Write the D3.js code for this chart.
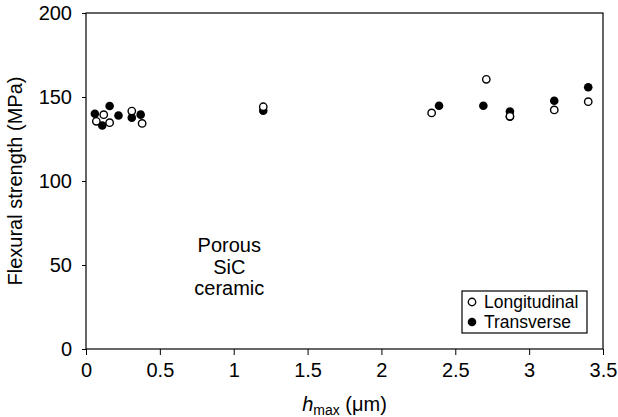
<!DOCTYPE html>
<html>
<head>
<meta charset="utf-8">
<script src="https://cdn.jsdelivr.net/npm/d3@7"></script>
<style>
  body { margin: 0; background: #fff; }
  svg { font-family: "Liberation Sans", Arial, sans-serif; }
  .axis text { font-size: 20px; fill: #000; }
  .axis path, .axis line { stroke: #000; }
</style>
</head>
<body>
<svg width="618" height="417"></svg>
<script>
// longitudinal (open circles)
var longX = [0.07, 0.12, 0.16, 0.31, 0.38, 1.20, 2.34, 2.71, 2.87, 3.17, 3.40]
var longY = [135.5, 139.5, 134.7, 141.6, 134.3, 144.2, 140.5, 160.5, 138.5, 142.3, 147.2]
// transverse (filled circles)
var transX = [0.06, 0.11, 0.16, 0.22, 0.31, 0.37, 1.20, 2.39, 2.69, 2.87, 2.87, 3.17, 3.40]
var transY = [140, 133, 144.6, 139, 137.7, 139.5, 141.8, 144.8, 144.8, 141.3, 138.3, 147.8, 155.8]
var xTicks = [0, 0.5, 1, 1.5, 2, 2.5, 3, 3.5]
var yTicks = [0, 50, 100, 150, 200]
var note = ["Porous", "SiC", "ceramic"]
var legendNames = ["Longitudinal", "Transverse"]

var svg = d3.select("svg"),
	margin = {top: 13, right: 15, bottom: 68, left: 86},
	width = +svg.attr("width") - margin.left - margin.right,
	height = +svg.attr("height") - margin.top - margin.bottom,
	g = svg.append("g").attr("transform", "translate(" + margin.left + "," + margin.top + ")");

var x = d3.scaleLinear().domain([0, 3.5]).range([0, width]);
var y = d3.scaleLinear().domain([0, 200]).range([height, 0]);

g.append("g")
	.attr("class", "axis")
	.attr("transform", "translate(0," + height + ")")
	.call(d3.axisBottom(x).tickValues(xTicks).tickSize(6).tickPadding(8).tickFormat(d3.format("")))
	.select(".domain").remove();

g.append("g")
	.attr("class", "axis")
	.call(d3.axisLeft(y).tickValues(yTicks).tickSize(4).tickPadding(10))
	.select(".domain").remove();

// frame
g.append("rect")
	.attr("width", width)
	.attr("height", height)
	.attr("fill", "none")
	.attr("stroke", "#000")
	.attr("stroke-width", 1.2);

var r = 4.3;
g.selectAll(".trans").data(transX).enter().append("circle")
	.attr("cx", function(d) { return x(d); })
	.attr("cy", function(d, i) { return y(transY[i]); })
	.attr("r", r)
	.attr("fill", "#000");

g.selectAll(".long").data(longX).enter().append("circle")
	.attr("cx", function(d) { return x(d); })
	.attr("cy", function(d, i) { return y(longY[i]); })
	.attr("r", r - 0.6)
	.attr("fill", "#fff")
	.attr("stroke", "#000")
	.attr("stroke-width", 1.4);

// annotation
g.append("text")
	.attr("text-anchor", "middle")
	.attr("font-size", 20)
	.selectAll("tspan").data(note).enter().append("tspan")
	.attr("x", x(0.97))
	.attr("y", function(d, i) { return 239 + i * 21.5; })
	.text(function(d) { return d; });

// legend
var lg = g.append("g").attr("transform", "translate(" + (width - 141) + "," + (height - 58) + ")");
lg.append("rect")
	.attr("width", 125)
	.attr("height", 42)
	.attr("fill", "#fff")
	.attr("stroke", "#000")
	.attr("stroke-width", 1.2);
legendNames.forEach(function(name, i) {
	var c = lg.append("circle")
		.attr("cx", 10)
		.attr("cy", 11 + i * 20)
		.attr("r", i == 0 ? r - 0.6 : r);
	if (i == 0) c.attr("fill", "#fff").attr("stroke", "#000").attr("stroke-width", 1.4);
	else c.attr("fill", "#000");
	lg.append("text")
		.attr("x", 22)
		.attr("y", 11 + i * 20)
		.attr("dy", "0.35em")
		.attr("font-size", 17.5)
		.text(name);
});

// axis titles
svg.append("text")
	.attr("transform", "translate(15," + (margin.top + height / 2) + ") rotate(-90)")
	.attr("text-anchor", "middle")
	.attr("dy", "0.35em")
	.attr("font-size", 20)
	.text("Flexural strength (MPa)");

var xt = svg.append("text")
	.attr("x", margin.left + width / 2)
	.attr("y", 411)
	.attr("text-anchor", "middle")
	.attr("font-size", 20);
xt.append("tspan").attr("font-style", "italic").text("h");
xt.append("tspan").attr("font-size", 14).attr("dy", 4).text("max");
xt.append("tspan").attr("dy", -4).text(" (\u03bcm)");
</script>
</body>
</html>
